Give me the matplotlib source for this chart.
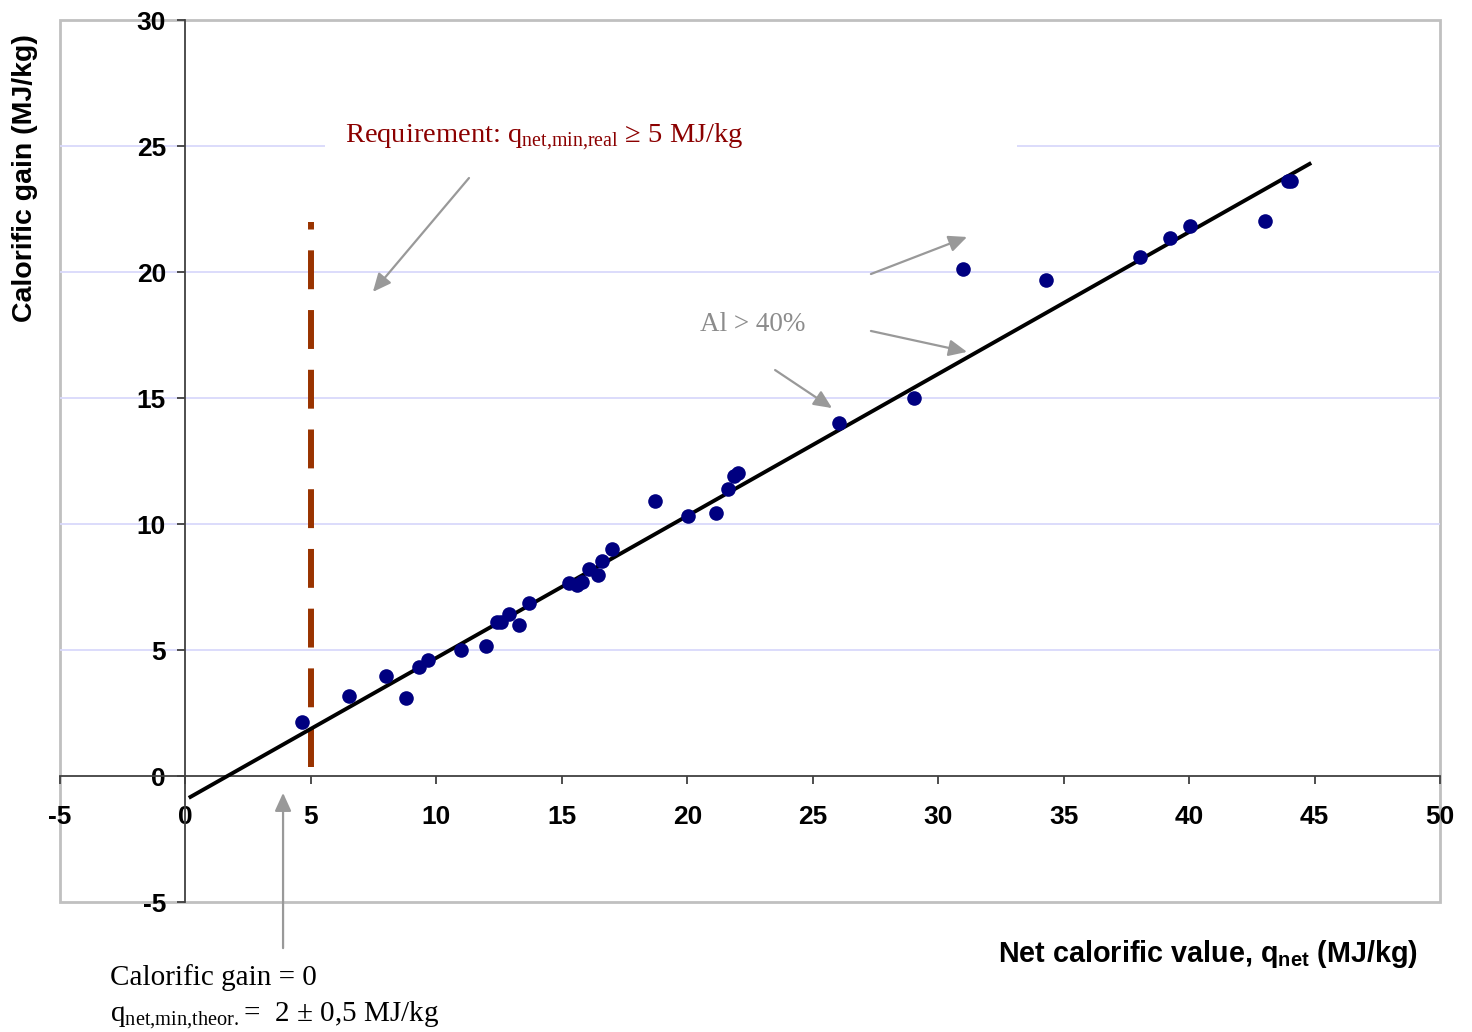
import matplotlib
matplotlib.use('Agg')
import matplotlib.pyplot as plt
from matplotlib.patches import Rectangle, FancyArrowPatch

plt.rcParams['font.family'] = 'Liberation Sans'
plt.rcParams['mathtext.fontset'] = 'custom'
plt.rcParams['mathtext.rm'] = 'Liberation Serif'
plt.rcParams['mathtext.bf'] = 'Liberation Sans:bold'
plt.rcParams['lines.scale_dashes'] = False
plt.rcParams['axes.unicode_minus'] = False

# measured samples: net calorific value vs calorific gain (MJ/kg)
q_net = [4.63, 6.52, 7.99, 8.78, 9.29, 9.67, 10.99, 11.99, 12.43, 12.59,
         12.88, 13.28, 13.69, 15.27, 15.62, 15.80, 16.10, 16.43, 16.62, 17.01,
         18.72, 20.02, 21.14, 21.62, 21.85, 22.03, 26.03, 29.02, 30.99, 34.31,
         38.03, 39.23, 40.04, 43.04, 43.94, 44.06]
gain = [2.13, 3.16, 3.97, 3.11, 4.34, 4.60, 5.01, 5.16, 6.10, 6.10,
        6.42, 5.99, 6.87, 7.66, 7.58, 7.68, 8.21, 7.99, 8.55, 9.01,
        10.91, 10.32, 10.44, 11.38, 11.92, 12.02, 14.02, 15.01, 20.11, 19.68,
        20.61, 21.35, 21.81, 22.01, 23.62, 23.62]

# linear trend line (end points)
trend_x = [0.2, 44.8]
trend_y = [-0.83, 24.29]

# requirement q_net,min,real = 5 MJ/kg
req_x = [5, 5]
req_y = [0.36, 21.98]

x_ticks = list(range(-5, 55, 5))
y_ticks = list(range(-5, 35, 5))
grid_y = [5, 10, 15, 20, 25]

# annotation arrows (tail, head) in data units
arrows = [((11.3, 23.73), (7.47, 19.21)),
          ((27.32, 19.92), (31.15, 21.39)),
          ((27.32, 17.66), (31.15, 16.83)),
          ((23.5, 16.11), (25.77, 14.60)),
          ((3.89, -6.83), (3.89, -0.67))]

fig = plt.figure(figsize=(14.72, 10.32), dpi=100)
ax = fig.add_axes([60/1472, 1-902/1032, 1380/1472, 882/1032])
ax.set_xlim(-5, 50)
ax.set_ylim(-5, 30)

for s in ['top', 'right']:
    ax.spines[s].set_visible(False)
ax.spines['left'].set_position(('data', 0))
ax.spines['bottom'].set_position(('data', 0))
for s in ['left', 'bottom']:
    ax.spines[s].set_color('#404040')
    ax.spines[s].set_linewidth(1.3)
    ax.spines[s].set_zorder(2)
ax.add_patch(Rectangle((0, 0), 1, 1, transform=ax.transAxes, fill=False,
                       ec='#c0c0c0', lw=2, clip_on=False, zorder=0.5))

ax.set_xticks(x_ticks)
ax.set_yticks(y_ticks)
ax.tick_params(axis='x', direction='out', length=6, width=1.3, color='#404040',
               pad=15, labelsize=19)
ax.tick_params(axis='y', direction='out', length=6, width=1.3, color='#404040',
               pad=8, labelsize=19)
for lab in ax.get_xticklabels() + ax.get_yticklabels():
    lab.set_fontweight('bold')

for g in grid_y:
    ax.axhline(g, color='#d9d9fb', lw=1.3, zorder=1)
# white box behind the requirement text
ax.add_patch(Rectangle((5.56, 24.4), 27.58, 2.0, fc='white', ec='none', zorder=1.5))

ax.plot(req_x, req_y, color='#993300', lw=4.3, dashes=(28, 15), zorder=2.5)
ax.plot(trend_x, trend_y, color='black', lw=2.8, zorder=3)
ax.plot(q_net, gain, 'o', color='#000080', ms=10.5, mec='none', zorder=4)

for tail, head in arrows:
    ax.add_patch(FancyArrowPatch(tail, head, arrowstyle='-|>,head_length=0.55,head_width=0.25',
                                 mutation_scale=20, color='#999999', lw=1.6,
                                 shrinkA=0, shrinkB=0, clip_on=False, zorder=5))

ax.text(6.36, 25.13, r'Requirement: q$_\mathrm{net{,}min{,}real}$ ≥ 5 MJ/kg',
        family='Liberation Serif', fontsize=20.5, color='#8b0000', va='baseline', zorder=6)
ax.text(20.51, 17.66, 'Al > 40%', family='Liberation Serif', fontsize=19.5,
        color='#8c8c8c', va='baseline', zorder=6)

fig.text(110/1472, 1-985/1032, 'Calorific gain = 0', family='Liberation Serif',
         fontsize=21, va='baseline')
fig.text(110/1472, 1-1022/1032, r'q$_\mathrm{net{,}min{,}theor.}$=  2 ± 0,5 MJ/kg',
         family='Liberation Serif', fontsize=21, va='baseline')

fig.text(25/1472, 1-178/1032, 'Calorific gain (MJ/kg)', rotation=90, ha='center',
         va='center', fontweight='bold', fontsize=20.5)
fig.text(1418/1472, 1-962/1032, r'Net calorific value, q$_\mathbf{net}$ (MJ/kg)',
         ha='right', va='baseline', fontweight='bold', fontsize=20.7)

fig.savefig('out.png', dpi=100)
